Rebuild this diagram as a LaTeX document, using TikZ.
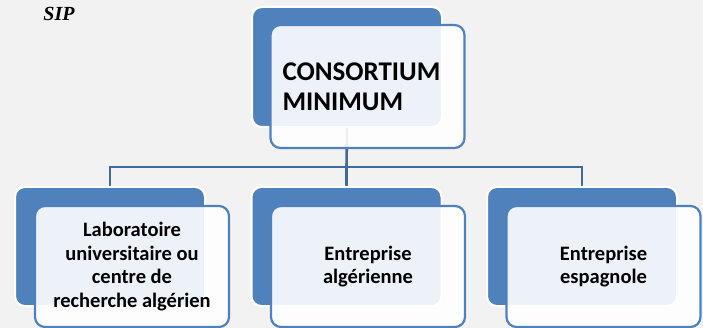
\documentclass[tikz,border=0pt]{standalone}
\usepackage{fontspec}
\setmainfont{Carlito}
\newfontfamily\sipfont{Liberation Serif}
\definecolor{boxblue}{HTML}{4F81BD}
\definecolor{linkblue}{HTML}{41699A}
\definecolor{pagegray}{HTML}{F2F2F2}
\tikzset{
  backbox/.style={draw=white, line width=2pt, fill=boxblue, rounded corners=10pt,
    minimum width=190pt, minimum height=119pt, inner sep=0pt},
  frontbox/.style={draw=boxblue, line width=2.2pt, fill=white, fill opacity=0.9,
    text opacity=1, rounded corners=10pt, minimum width=194pt, minimum height=121pt,
    inner sep=0pt, align=center, font=\bfseries\fontsize{20.5}{23.7}\selectfont},
  link/.style={draw=linkblue, line width=2.6pt}
}
\begin{document}
\begin{tikzpicture}[x=1pt,y=-1pt]
    % Page
    \useasboundingbox (0,0) rectangle (703,328);
    \fill [pagegray] (0,0) rectangle (703,328);
    \node at (59,14) [font=\sipfont\bfseries\itshape\fontsize{20}{22}\selectfont] (sip) {SIP};

    % Back boxes
    \coordinate (T) at (347,67);
    \coordinate (A) at (110,246.5);
    \coordinate (B) at (346.5,246.5);
    \coordinate (C) at (582,246.5);
    \node at (T) [backbox, minimum height=120pt] (topback) {};
    \node at (A) [backbox] (labback) {};
    \node at (B) [backbox] (algback) {};
    \node at (C) [backbox] (espback) {};

    % Links
    \coordinate (bus) at (346.5,167);
    \draw [link] (topback.south) -- (bus);
    \draw [link] (bus) -| ([yshift=-1pt]labback.north);
    \draw [link] (bus) -| ([yshift=-1pt]espback.north);
    \draw [link] (bus) -- ([yshift=-1pt]algback.north);

    % Back boxes again over the link ends
    \node at (T) [backbox, minimum height=120pt] {};
    \node at (A) [backbox] {};
    \node at (B) [backbox] {};
    \node at (C) [backbox] {};

    % Front boxes
    \node at (367.5,86.5) [frontbox, minimum height=123pt, text width=170pt, align=left,
      font=\bfseries\fontsize{27}{30}\selectfont] (consortium) {CONSORTIUM\\MINIMUM};
    \node at (132,266.5) [frontbox] (lab) {Laboratoire\\universitaire ou\\centre de\\recherche algérien};
    \node at (368,266.5) [frontbox] (alg) {Entreprise\\algérienne};
    \node at (603.5,266.5) [frontbox] (esp) {Entreprise\\espagnole};
\end{tikzpicture}
\end{document}
